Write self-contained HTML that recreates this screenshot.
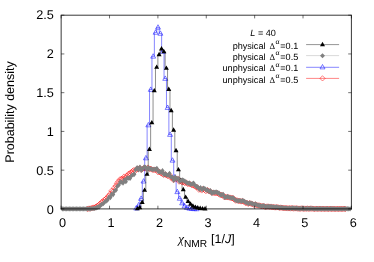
<!DOCTYPE html><html><head><meta charset="utf-8"><style>html,body{margin:0;padding:0;background:#fff}body{width:374px;height:262px;overflow:hidden;position:relative}</style></head><body><svg width="374" height="262" viewBox="0 0 374 262" style="position:absolute;left:0;top:0">
<path d="M86.78 208.79H88.19V208.62H89.59V208.50H91.00V208.21H92.41V207.63H93.83V207.62H95.23V206.78H96.65V205.82H98.06V205.18H99.47V203.72H100.88V202.25H102.28V201.52H103.69V199.83H105.10V198.93H106.52V197.51H107.92V195.82H109.34V194.11H110.75V190.94H112.16V191.51H113.56V187.94H114.97V185.96H116.38V183.30H117.79V181.63H119.20V179.51H120.62V179.04H122.03V178.76H123.44V176.67H124.84V177.83H126.25V175.81H127.66V174.04H129.07V173.48H130.48V172.37H131.89V171.16H133.31V170.15H134.71V170.84H136.12V168.81H137.53V168.91H138.94V168.06H140.35V169.71H141.76V168.93H143.17V168.24H144.58V168.41H146.00V168.86H147.40V167.65H148.81V168.75H150.22V168.85H151.63V169.70H153.04V169.83H154.45V169.87H155.86V169.66H157.27V172.12H158.69V171.80H160.09V172.92H161.50V173.71H162.91V174.74H164.32V174.43H165.73V175.32H167.14V176.03H168.56V174.86H169.96V177.44H171.38V177.78H172.78V180.01H174.19V178.71H175.60V178.88H177.01V178.67H178.42V181.54H179.83V180.88H181.25V182.16H182.65V182.16H184.06V182.96H185.47V182.60H186.88V183.78H188.29V183.87H189.70V184.30H191.12V185.06H192.52V185.12H193.94V186.24H195.34V186.80H196.75V187.35H198.16V189.61H199.57V188.92H200.98V190.34H202.39V188.84H203.81V189.81H205.21V190.97H206.62V190.03H208.03V191.20H209.44V191.43H210.85V192.56H212.26V192.88H213.68V192.74H215.08V193.19H216.50V192.91H217.90V193.77H219.31V194.70H220.72V195.13H222.13V195.22H223.54V197.15H224.95V197.08H226.37V197.18H227.77V197.35H229.19V197.59H230.59V198.14H232.00V197.87H233.41V199.22H234.82V200.54H236.23V200.40H237.64V200.85H239.06V200.94H240.46V201.40H241.88V201.17H243.28V201.73H244.69V202.85H246.10V202.85H247.51V203.77H248.92V203.08H250.33V203.60H251.75V204.21H253.15V204.77H254.56V204.45H255.97V205.15H257.38V205.43H258.79V205.53H260.20V206.03H261.62V206.30H263.02V206.06H264.43V206.92H265.84V206.64H267.25V206.52H268.66V206.71H270.07V206.69H271.48V207.27H272.89V206.93H274.30V207.41H275.71V207.37H277.12V207.25H278.53V207.71H279.94V207.58H281.35V207.76H282.76V208.11H284.17V208.04H285.58V208.19H287.00V208.34H288.40V208.18H289.81V208.44H291.22V208.08H292.63V208.52H294.04V208.38H295.45V208.36H296.87V208.52H298.27V208.66H299.68V208.62H301.09V208.46H302.50V208.73H303.91V208.61H305.32V208.71H306.73V208.51H308.14V208.79H309.55V208.56H310.96V208.58H312.38V208.74H313.78V208.84H315.19V208.72H316.60V208.78H318.01V208.72H319.42V208.74H320.83V208.77H322.24V208.81H323.65V208.82H325.06V208.81H326.47V208.82H327.88V208.86H329.29V208.79H330.70V208.83H332.11V208.85H333.52V208.89H334.93V208.85H336.34V208.90H337.75V208.84H339.16V208.89H340.57V208.86H341.98V208.84H343.39V208.82H344.80V208.86H346.21" stroke="#ff0000" stroke-width="0.5" fill="none" stroke-opacity="0.8"/>
<path d="M87.48 206.04 L90.23 208.79 L87.48 211.54 L84.73 208.79 ZM88.89 205.87 L91.64 208.62 L88.89 211.37 L86.14 208.62 ZM90.30 205.75 L93.05 208.50 L90.30 211.25 L87.55 208.50 ZM91.71 205.46 L94.46 208.21 L91.71 210.96 L88.96 208.21 ZM93.12 204.88 L95.87 207.63 L93.12 210.38 L90.37 207.63 ZM94.53 204.87 L97.28 207.62 L94.53 210.37 L91.78 207.62 ZM95.94 204.03 L98.69 206.78 L95.94 209.53 L93.19 206.78 ZM97.35 203.07 L100.10 205.82 L97.35 208.57 L94.60 205.82 ZM98.76 202.43 L101.51 205.18 L98.76 207.93 L96.01 205.18 ZM100.17 200.97 L102.92 203.72 L100.17 206.47 L97.42 203.72 ZM101.58 199.50 L104.33 202.25 L101.58 205.00 L98.83 202.25 ZM102.99 198.77 L105.74 201.52 L102.99 204.27 L100.24 201.52 ZM104.40 197.08 L107.15 199.83 L104.40 202.58 L101.65 199.83 ZM105.81 196.18 L108.56 198.93 L105.81 201.68 L103.06 198.93 ZM107.22 194.76 L109.97 197.51 L107.22 200.26 L104.47 197.51 ZM108.63 193.07 L111.38 195.82 L108.63 198.57 L105.88 195.82 ZM110.04 191.36 L112.79 194.11 L110.04 196.86 L107.29 194.11 ZM111.45 188.19 L114.20 190.94 L111.45 193.69 L108.70 190.94 ZM112.86 188.76 L115.61 191.51 L112.86 194.26 L110.11 191.51 ZM114.27 185.19 L117.02 187.94 L114.27 190.69 L111.52 187.94 ZM115.68 183.21 L118.43 185.96 L115.68 188.71 L112.93 185.96 ZM117.09 180.55 L119.84 183.30 L117.09 186.05 L114.34 183.30 ZM118.50 178.88 L121.25 181.63 L118.50 184.38 L115.75 181.63 ZM119.91 176.76 L122.66 179.51 L119.91 182.26 L117.16 179.51 ZM121.32 176.29 L124.07 179.04 L121.32 181.79 L118.57 179.04 ZM122.73 176.01 L125.48 178.76 L122.73 181.51 L119.98 178.76 ZM124.14 173.92 L126.89 176.67 L124.14 179.42 L121.39 176.67 ZM125.55 175.08 L128.30 177.83 L125.55 180.58 L122.80 177.83 ZM126.96 173.06 L129.71 175.81 L126.96 178.56 L124.21 175.81 ZM128.37 171.29 L131.12 174.04 L128.37 176.79 L125.62 174.04 ZM129.78 170.73 L132.53 173.48 L129.78 176.23 L127.03 173.48 ZM131.19 169.62 L133.94 172.37 L131.19 175.12 L128.44 172.37 ZM132.60 168.41 L135.35 171.16 L132.60 173.91 L129.85 171.16 ZM134.01 167.40 L136.76 170.15 L134.01 172.90 L131.26 170.15 ZM135.42 168.09 L138.17 170.84 L135.42 173.59 L132.67 170.84 ZM136.83 166.06 L139.58 168.81 L136.83 171.56 L134.08 168.81 ZM138.24 166.16 L140.99 168.91 L138.24 171.66 L135.49 168.91 ZM139.65 165.31 L142.40 168.06 L139.65 170.81 L136.90 168.06 ZM141.06 166.96 L143.81 169.71 L141.06 172.46 L138.31 169.71 ZM142.47 166.18 L145.22 168.93 L142.47 171.68 L139.72 168.93 ZM143.88 165.49 L146.63 168.24 L143.88 170.99 L141.13 168.24 ZM145.29 165.66 L148.04 168.41 L145.29 171.16 L142.54 168.41 ZM146.70 166.11 L149.45 168.86 L146.70 171.61 L143.95 168.86 ZM148.11 164.90 L150.86 167.65 L148.11 170.40 L145.36 167.65 ZM149.52 166.00 L152.27 168.75 L149.52 171.50 L146.77 168.75 ZM150.93 166.10 L153.68 168.85 L150.93 171.60 L148.18 168.85 ZM152.34 166.95 L155.09 169.70 L152.34 172.45 L149.59 169.70 ZM153.75 167.08 L156.50 169.83 L153.75 172.58 L151.00 169.83 ZM155.16 167.12 L157.91 169.87 L155.16 172.62 L152.41 169.87 ZM156.57 166.91 L159.32 169.66 L156.57 172.41 L153.82 169.66 ZM157.98 169.37 L160.73 172.12 L157.98 174.87 L155.23 172.12 ZM159.39 169.05 L162.14 171.80 L159.39 174.55 L156.64 171.80 ZM160.80 170.17 L163.55 172.92 L160.80 175.67 L158.05 172.92 ZM162.21 170.96 L164.96 173.71 L162.21 176.46 L159.46 173.71 ZM163.62 171.99 L166.37 174.74 L163.62 177.49 L160.87 174.74 ZM165.03 171.68 L167.78 174.43 L165.03 177.18 L162.28 174.43 ZM166.44 172.57 L169.19 175.32 L166.44 178.07 L163.69 175.32 ZM167.85 173.28 L170.60 176.03 L167.85 178.78 L165.10 176.03 ZM169.26 172.11 L172.01 174.86 L169.26 177.61 L166.51 174.86 ZM170.67 174.69 L173.42 177.44 L170.67 180.19 L167.92 177.44 ZM172.08 175.03 L174.83 177.78 L172.08 180.53 L169.33 177.78 ZM173.49 177.26 L176.24 180.01 L173.49 182.76 L170.74 180.01 ZM174.90 175.96 L177.65 178.71 L174.90 181.46 L172.15 178.71 ZM176.31 176.13 L179.06 178.88 L176.31 181.63 L173.56 178.88 ZM177.72 175.92 L180.47 178.67 L177.72 181.42 L174.97 178.67 ZM179.13 178.79 L181.88 181.54 L179.13 184.29 L176.38 181.54 ZM180.54 178.13 L183.29 180.88 L180.54 183.63 L177.79 180.88 ZM181.95 179.41 L184.70 182.16 L181.95 184.91 L179.20 182.16 ZM183.36 179.41 L186.11 182.16 L183.36 184.91 L180.61 182.16 ZM184.77 180.21 L187.52 182.96 L184.77 185.71 L182.02 182.96 ZM186.18 179.85 L188.93 182.60 L186.18 185.35 L183.43 182.60 ZM187.59 181.03 L190.34 183.78 L187.59 186.53 L184.84 183.78 ZM189.00 181.12 L191.75 183.87 L189.00 186.62 L186.25 183.87 ZM190.41 181.55 L193.16 184.30 L190.41 187.05 L187.66 184.30 ZM191.82 182.31 L194.57 185.06 L191.82 187.81 L189.07 185.06 ZM193.23 182.37 L195.98 185.12 L193.23 187.87 L190.48 185.12 ZM194.64 183.49 L197.39 186.24 L194.64 188.99 L191.89 186.24 ZM196.05 184.05 L198.80 186.80 L196.05 189.55 L193.30 186.80 ZM197.46 184.60 L200.21 187.35 L197.46 190.10 L194.71 187.35 ZM198.87 186.86 L201.62 189.61 L198.87 192.36 L196.12 189.61 ZM200.28 186.17 L203.03 188.92 L200.28 191.67 L197.53 188.92 ZM201.69 187.59 L204.44 190.34 L201.69 193.09 L198.94 190.34 ZM203.10 186.09 L205.85 188.84 L203.10 191.59 L200.35 188.84 ZM204.51 187.06 L207.26 189.81 L204.51 192.56 L201.76 189.81 ZM205.92 188.22 L208.67 190.97 L205.92 193.72 L203.17 190.97 ZM207.33 187.28 L210.08 190.03 L207.33 192.78 L204.58 190.03 ZM208.74 188.45 L211.49 191.20 L208.74 193.95 L205.99 191.20 ZM210.15 188.68 L212.90 191.43 L210.15 194.18 L207.40 191.43 ZM211.56 189.81 L214.31 192.56 L211.56 195.31 L208.81 192.56 ZM212.97 190.13 L215.72 192.88 L212.97 195.63 L210.22 192.88 ZM214.38 189.99 L217.13 192.74 L214.38 195.49 L211.63 192.74 ZM215.79 190.44 L218.54 193.19 L215.79 195.94 L213.04 193.19 ZM217.20 190.16 L219.95 192.91 L217.20 195.66 L214.45 192.91 ZM218.61 191.02 L221.36 193.77 L218.61 196.52 L215.86 193.77 ZM220.02 191.95 L222.77 194.70 L220.02 197.45 L217.27 194.70 ZM221.43 192.38 L224.18 195.13 L221.43 197.88 L218.68 195.13 ZM222.84 192.47 L225.59 195.22 L222.84 197.97 L220.09 195.22 ZM224.25 194.40 L227.00 197.15 L224.25 199.90 L221.50 197.15 ZM225.66 194.33 L228.41 197.08 L225.66 199.83 L222.91 197.08 ZM227.07 194.43 L229.82 197.18 L227.07 199.93 L224.32 197.18 ZM228.48 194.60 L231.23 197.35 L228.48 200.10 L225.73 197.35 ZM229.89 194.84 L232.64 197.59 L229.89 200.34 L227.14 197.59 ZM231.30 195.39 L234.05 198.14 L231.30 200.89 L228.55 198.14 ZM232.71 195.12 L235.46 197.87 L232.71 200.62 L229.96 197.87 ZM234.12 196.47 L236.87 199.22 L234.12 201.97 L231.37 199.22 ZM235.53 197.79 L238.28 200.54 L235.53 203.29 L232.78 200.54 ZM236.94 197.65 L239.69 200.40 L236.94 203.15 L234.19 200.40 ZM238.35 198.10 L241.10 200.85 L238.35 203.60 L235.60 200.85 ZM239.76 198.19 L242.51 200.94 L239.76 203.69 L237.01 200.94 ZM241.17 198.65 L243.92 201.40 L241.17 204.15 L238.42 201.40 ZM242.58 198.42 L245.33 201.17 L242.58 203.92 L239.83 201.17 ZM243.99 198.98 L246.74 201.73 L243.99 204.48 L241.24 201.73 ZM245.40 200.10 L248.15 202.85 L245.40 205.60 L242.65 202.85 ZM246.81 200.10 L249.56 202.85 L246.81 205.60 L244.06 202.85 ZM248.22 201.02 L250.97 203.77 L248.22 206.52 L245.47 203.77 ZM249.63 200.33 L252.38 203.08 L249.63 205.83 L246.88 203.08 ZM251.04 200.85 L253.79 203.60 L251.04 206.35 L248.29 203.60 ZM252.45 201.46 L255.20 204.21 L252.45 206.96 L249.70 204.21 ZM253.86 202.02 L256.61 204.77 L253.86 207.52 L251.11 204.77 ZM255.27 201.70 L258.02 204.45 L255.27 207.20 L252.52 204.45 ZM256.68 202.40 L259.43 205.15 L256.68 207.90 L253.93 205.15 ZM258.09 202.68 L260.84 205.43 L258.09 208.18 L255.34 205.43 ZM259.50 202.78 L262.25 205.53 L259.50 208.28 L256.75 205.53 ZM260.91 203.28 L263.66 206.03 L260.91 208.78 L258.16 206.03 ZM262.32 203.55 L265.07 206.30 L262.32 209.05 L259.57 206.30 ZM263.73 203.31 L266.48 206.06 L263.73 208.81 L260.98 206.06 ZM265.14 204.17 L267.89 206.92 L265.14 209.67 L262.39 206.92 ZM266.55 203.89 L269.30 206.64 L266.55 209.39 L263.80 206.64 ZM267.96 203.77 L270.71 206.52 L267.96 209.27 L265.21 206.52 ZM269.37 203.96 L272.12 206.71 L269.37 209.46 L266.62 206.71 ZM270.78 203.94 L273.53 206.69 L270.78 209.44 L268.03 206.69 ZM272.19 204.52 L274.94 207.27 L272.19 210.02 L269.44 207.27 ZM273.60 204.18 L276.35 206.93 L273.60 209.68 L270.85 206.93 ZM275.01 204.66 L277.76 207.41 L275.01 210.16 L272.26 207.41 ZM276.42 204.62 L279.17 207.37 L276.42 210.12 L273.67 207.37 ZM277.83 204.50 L280.58 207.25 L277.83 210.00 L275.08 207.25 ZM279.24 204.96 L281.99 207.71 L279.24 210.46 L276.49 207.71 ZM280.65 204.83 L283.40 207.58 L280.65 210.33 L277.90 207.58 ZM282.06 205.01 L284.81 207.76 L282.06 210.51 L279.31 207.76 ZM283.47 205.36 L286.22 208.11 L283.47 210.86 L280.72 208.11 ZM284.88 205.29 L287.63 208.04 L284.88 210.79 L282.13 208.04 ZM286.29 205.44 L289.04 208.19 L286.29 210.94 L283.54 208.19 ZM287.70 205.59 L290.45 208.34 L287.70 211.09 L284.95 208.34 ZM289.11 205.43 L291.86 208.18 L289.11 210.93 L286.36 208.18 ZM290.52 205.69 L293.27 208.44 L290.52 211.19 L287.77 208.44 ZM291.93 205.33 L294.68 208.08 L291.93 210.83 L289.18 208.08 ZM293.34 205.77 L296.09 208.52 L293.34 211.27 L290.59 208.52 ZM294.75 205.63 L297.50 208.38 L294.75 211.13 L292.00 208.38 ZM296.16 205.61 L298.91 208.36 L296.16 211.11 L293.41 208.36 ZM297.57 205.77 L300.32 208.52 L297.57 211.27 L294.82 208.52 ZM298.98 205.91 L301.73 208.66 L298.98 211.41 L296.23 208.66 ZM300.39 205.87 L303.14 208.62 L300.39 211.37 L297.64 208.62 ZM301.80 205.71 L304.55 208.46 L301.80 211.21 L299.05 208.46 ZM303.21 205.98 L305.96 208.73 L303.21 211.48 L300.46 208.73 ZM304.62 205.86 L307.37 208.61 L304.62 211.36 L301.87 208.61 ZM306.03 205.96 L308.78 208.71 L306.03 211.46 L303.28 208.71 ZM307.44 205.76 L310.19 208.51 L307.44 211.26 L304.69 208.51 ZM308.85 206.04 L311.60 208.79 L308.85 211.54 L306.10 208.79 ZM310.26 205.81 L313.01 208.56 L310.26 211.31 L307.51 208.56 ZM311.67 205.83 L314.42 208.58 L311.67 211.33 L308.92 208.58 ZM313.08 205.99 L315.83 208.74 L313.08 211.49 L310.33 208.74 ZM314.49 206.09 L317.24 208.84 L314.49 211.59 L311.74 208.84 ZM315.90 205.97 L318.65 208.72 L315.90 211.47 L313.15 208.72 ZM317.31 206.03 L320.06 208.78 L317.31 211.53 L314.56 208.78 ZM318.72 205.97 L321.47 208.72 L318.72 211.47 L315.97 208.72 ZM320.13 205.99 L322.88 208.74 L320.13 211.49 L317.38 208.74 ZM321.54 206.02 L324.29 208.77 L321.54 211.52 L318.79 208.77 ZM322.95 206.06 L325.70 208.81 L322.95 211.56 L320.20 208.81 ZM324.36 206.07 L327.11 208.82 L324.36 211.57 L321.61 208.82 ZM325.77 206.06 L328.52 208.81 L325.77 211.56 L323.02 208.81 ZM327.18 206.07 L329.93 208.82 L327.18 211.57 L324.43 208.82 ZM328.59 206.11 L331.34 208.86 L328.59 211.61 L325.84 208.86 ZM330.00 206.04 L332.75 208.79 L330.00 211.54 L327.25 208.79 ZM331.41 206.08 L334.16 208.83 L331.41 211.58 L328.66 208.83 ZM332.82 206.10 L335.57 208.85 L332.82 211.60 L330.07 208.85 ZM334.23 206.14 L336.98 208.89 L334.23 211.64 L331.48 208.89 ZM335.64 206.10 L338.39 208.85 L335.64 211.60 L332.89 208.85 ZM337.05 206.15 L339.80 208.90 L337.05 211.65 L334.30 208.90 ZM338.46 206.09 L341.21 208.84 L338.46 211.59 L335.71 208.84 ZM339.87 206.14 L342.62 208.89 L339.87 211.64 L337.12 208.89 ZM341.28 206.11 L344.03 208.86 L341.28 211.61 L338.53 208.86 ZM342.69 206.09 L345.44 208.84 L342.69 211.59 L339.94 208.84 ZM344.10 206.07 L346.85 208.82 L344.10 211.57 L341.35 208.82 ZM345.51 206.11 L348.26 208.86 L345.51 211.61 L342.76 208.86 Z" stroke="#ff0000" stroke-width="0.5" fill="none"/>
<path d="M135.04 208.20H137.46V205.00H139.87V198.50H142.29V181.20H144.71V158.00H147.12V125.00H149.54V89.50H151.96V56.30H154.37V32.40H156.79V27.30H159.21V33.40H161.63V51.50H164.04V78.50H166.46V107.60H168.88V134.50H171.29V160.30H173.71V177.00H176.13V191.80H178.54V198.40H180.96V203.00H183.38V206.00H185.79V207.60H188.21V208.30H190.63V208.60H193.04V208.80H195.46V208.90H197.88" stroke="#0000ff" stroke-width="0.6" fill="none" stroke-opacity="0.8"/>
<path d="M136.25 205.62 L133.75 210.03 L138.75 210.03 ZM138.67 202.42 L136.17 206.83 L141.17 206.83 ZM141.08 195.92 L138.58 200.33 L143.58 200.33 ZM143.50 178.62 L141.00 183.03 L146.00 183.03 ZM145.92 155.42 L143.42 159.83 L148.42 159.83 ZM148.33 122.42 L145.83 126.83 L150.83 126.83 ZM150.75 86.92 L148.25 91.33 L153.25 91.33 ZM153.17 53.72 L150.67 58.13 L155.67 58.13 ZM155.58 29.82 L153.08 34.23 L158.08 34.23 ZM158.00 24.72 L155.50 29.13 L160.50 29.13 ZM160.42 30.82 L157.92 35.23 L162.92 35.23 ZM162.83 48.92 L160.33 53.33 L165.33 53.33 ZM165.25 75.92 L162.75 80.33 L167.75 80.33 ZM167.67 105.02 L165.17 109.43 L170.17 109.43 ZM170.08 131.92 L167.58 136.33 L172.58 136.33 ZM172.50 157.72 L170.00 162.13 L175.00 162.13 ZM174.92 174.42 L172.42 178.83 L177.42 178.83 ZM177.33 189.22 L174.83 193.63 L179.83 193.63 ZM179.75 195.82 L177.25 200.23 L182.25 200.23 ZM182.17 200.42 L179.67 204.83 L184.67 204.83 ZM184.58 203.42 L182.08 207.83 L187.08 207.83 ZM187.00 205.02 L184.50 209.43 L189.50 209.43 ZM189.42 205.72 L186.92 210.13 L191.92 210.13 ZM191.83 206.02 L189.33 210.43 L194.33 210.43 ZM194.25 206.22 L191.75 210.63 L196.75 210.63 ZM196.67 206.32 L194.17 210.73 L199.17 210.73 Z" stroke="#0000ff" stroke-width="0.6" fill="none" stroke-opacity="0.85"/>
<path d="M136.14 208.50H138.56V207.30H140.97V202.20H143.39V190.00H145.81V174.00H148.22V149.20H150.64V122.50H153.06V90.50H155.47V67.00H157.89V54.40H160.31V48.60H162.73V51.50H165.14V68.00H167.56V89.10H169.98V110.30H172.39V129.80H174.81V150.40H177.23V169.50H179.64V180.00H182.06V189.40H184.48V197.00H186.89V201.20H189.31V203.90H191.73V205.80H194.14V207.00H196.56V207.70H198.98V208.20H201.39V208.50H203.81V208.70H206.23" stroke="#000" stroke-width="0.6" fill="none" stroke-opacity="0.75"/>
<path d="M137.35 205.92 L134.85 210.33 L139.85 210.33 ZM139.77 204.72 L137.27 209.13 L142.27 209.13 ZM142.18 199.62 L139.68 204.03 L144.68 204.03 ZM144.60 187.42 L142.10 191.83 L147.10 191.83 ZM147.02 171.42 L144.52 175.83 L149.52 175.83 ZM149.43 146.62 L146.93 151.03 L151.93 151.03 ZM151.85 119.92 L149.35 124.33 L154.35 124.33 ZM154.27 87.92 L151.77 92.33 L156.77 92.33 ZM156.68 64.42 L154.18 68.83 L159.18 68.83 ZM159.10 51.82 L156.60 56.23 L161.60 56.23 ZM161.52 46.02 L159.02 50.43 L164.02 50.43 ZM163.93 48.92 L161.43 53.33 L166.43 53.33 ZM166.35 65.42 L163.85 69.83 L168.85 69.83 ZM168.77 86.52 L166.27 90.93 L171.27 90.93 ZM171.18 107.72 L168.68 112.13 L173.68 112.13 ZM173.60 127.22 L171.10 131.63 L176.10 131.63 ZM176.02 147.82 L173.52 152.23 L178.52 152.23 ZM178.43 166.92 L175.93 171.33 L180.93 171.33 ZM180.85 177.42 L178.35 181.83 L183.35 181.83 ZM183.27 186.82 L180.77 191.23 L185.77 191.23 ZM185.68 194.42 L183.18 198.83 L188.18 198.83 ZM188.10 198.62 L185.60 203.03 L190.60 203.03 ZM190.52 201.32 L188.02 205.73 L193.02 205.73 ZM192.93 203.22 L190.43 207.63 L195.43 207.63 ZM195.35 204.42 L192.85 208.83 L197.85 208.83 ZM197.77 205.12 L195.27 209.53 L200.27 209.53 ZM200.18 205.62 L197.68 210.03 L202.68 210.03 ZM202.60 205.92 L200.10 210.33 L205.10 210.33 ZM205.02 206.12 L202.52 210.53 L207.52 210.53 Z" fill="#000" stroke="none"/>
<path d="M61.70 208.90H63.10V208.90H64.52V208.90H65.92V208.90H67.33V208.90H68.75V208.90H70.16V208.90H71.56V208.90H72.97V208.90H74.38V208.90H75.80V208.90H77.20V208.90H78.61V208.90H80.02V208.90H81.44V208.90H82.84V208.90H84.25V208.90H85.66V208.85H87.08V208.84H88.48V208.80H89.89V208.78H91.30V208.64H92.72V208.42H94.12V208.41H95.53V207.80H96.94V207.27H98.36V206.93H99.77V205.50H101.17V204.36H102.58V203.58H103.99V201.95H105.41V201.06H106.81V199.96H108.22V197.30H109.63V197.54H111.05V194.12H112.45V194.43H113.86V190.90H115.27V190.08H116.68V186.37H118.09V185.11H119.50V182.15H120.91V182.15H122.33V183.10H123.73V179.85H125.14V181.65H126.55V178.06H127.96V178.14H129.38V178.35H130.78V175.60H132.19V174.92H133.61V174.23H135.01V169.57H136.43V167.65H137.83V169.73H139.25V167.10H140.65V170.21H142.06V168.81H143.47V167.07H144.88V167.34H146.30V169.71H147.70V167.71H149.12V168.69H150.52V169.01H151.94V169.62H153.34V169.20H154.75V169.40H156.16V168.46H157.57V171.49H158.99V171.45H160.39V172.42H161.81V170.78H163.21V174.53H164.62V173.60H166.03V175.10H167.44V174.99H168.86V173.40H170.26V176.95H171.68V177.18H173.08V180.19H174.50V177.11H175.90V178.71H177.31V178.40H178.72V181.37H180.13V180.65H181.55V179.89H182.95V180.47H184.37V181.41H185.77V182.44H187.19V183.30H188.59V183.04H190.00V184.38H191.42V183.97H192.82V183.12H194.24V185.24H195.64V186.46H197.06V186.96H198.46V188.93H199.88V187.79H201.28V189.64H202.69V188.32H204.11V188.59H205.51V190.14H206.93V189.99H208.33V191.64H209.75V190.68H211.15V193.24H212.56V192.31H213.98V192.38H215.38V192.04H216.80V192.72H218.20V192.94H219.62V194.84H221.02V194.71H222.44V194.35H223.84V197.20H225.25V197.37H226.67V196.51H228.07V197.19H229.49V197.60H230.89V198.09H232.31V197.63H233.71V199.25H235.12V200.30H236.53V200.73H237.94V200.74H239.36V200.61H240.76V201.22H242.18V200.48H243.58V201.50H245.00V202.24H246.40V202.81H247.81V203.67H249.22V202.84H250.63V203.52H252.05V203.73H253.45V204.66H254.87V203.98H256.27V204.92H257.68V205.40H259.09V205.53H260.50V206.17H261.91V205.87H263.32V205.72H264.74V206.85H266.14V206.40H267.55V206.45H268.96V206.60H270.38V206.55H271.78V206.89H273.19V206.91H274.61V207.30H276.01V206.93H277.42V207.37H278.83V207.77H280.25V207.34H281.65V207.71H283.06V208.09H284.48V208.00H285.88V208.15H287.29V208.34H288.70V208.11H290.12V208.40H291.52V207.98H292.93V208.30H294.34V208.35H295.75V208.28H297.16V208.53H298.57V208.76H299.99V208.56H301.39V208.48H302.80V208.75H304.21V208.61H305.62V208.68H307.03V208.47H308.44V208.77H309.86V208.54H311.26V208.55H312.67V208.77H314.08V208.88H315.50V208.73H316.90V208.79H318.31V208.72H319.72V208.72H321.13V208.80H322.54V208.79H323.95V208.84H325.36V208.82H326.77V208.82H328.18V208.83H329.59V208.81H331.00V208.81H332.41V208.82H333.82V208.90H335.23V208.88H336.64V208.89H338.05V208.89H339.46V208.87H340.88V208.88H342.28V208.84H343.69V208.81H345.10V208.87H346.51V208.82H347.92V208.84H349.33V208.88H350.75" stroke="#808080" stroke-width="0.6" fill="none"/>
<path d="M62.40 206.20 L64.50 208.90 L62.40 211.60 L60.30 208.90 ZM63.81 206.20 L65.91 208.90 L63.81 211.60 L61.71 208.90 ZM65.22 206.20 L67.32 208.90 L65.22 211.60 L63.12 208.90 ZM66.63 206.20 L68.73 208.90 L66.63 211.60 L64.53 208.90 ZM68.04 206.20 L70.14 208.90 L68.04 211.60 L65.94 208.90 ZM69.45 206.20 L71.55 208.90 L69.45 211.60 L67.35 208.90 ZM70.86 206.20 L72.96 208.90 L70.86 211.60 L68.76 208.90 ZM72.27 206.20 L74.37 208.90 L72.27 211.60 L70.17 208.90 ZM73.68 206.20 L75.78 208.90 L73.68 211.60 L71.58 208.90 ZM75.09 206.20 L77.19 208.90 L75.09 211.60 L72.99 208.90 ZM76.50 206.20 L78.60 208.90 L76.50 211.60 L74.40 208.90 ZM77.91 206.20 L80.01 208.90 L77.91 211.60 L75.81 208.90 ZM79.32 206.20 L81.42 208.90 L79.32 211.60 L77.22 208.90 ZM80.73 206.20 L82.83 208.90 L80.73 211.60 L78.63 208.90 ZM82.14 206.20 L84.24 208.90 L82.14 211.60 L80.04 208.90 ZM83.55 206.20 L85.65 208.90 L83.55 211.60 L81.45 208.90 ZM84.96 206.20 L87.06 208.90 L84.96 211.60 L82.86 208.90 ZM86.37 206.15 L88.47 208.85 L86.37 211.55 L84.27 208.85 ZM87.78 206.14 L89.88 208.84 L87.78 211.54 L85.68 208.84 ZM89.19 206.10 L91.29 208.80 L89.19 211.50 L87.09 208.80 ZM90.60 206.08 L92.70 208.78 L90.60 211.48 L88.50 208.78 ZM92.01 205.94 L94.11 208.64 L92.01 211.34 L89.91 208.64 ZM93.42 205.72 L95.52 208.42 L93.42 211.12 L91.32 208.42 ZM94.83 205.71 L96.93 208.41 L94.83 211.11 L92.73 208.41 ZM96.24 205.10 L98.34 207.80 L96.24 210.50 L94.14 207.80 ZM97.65 204.57 L99.75 207.27 L97.65 209.97 L95.55 207.27 ZM99.06 204.23 L101.16 206.93 L99.06 209.63 L96.96 206.93 ZM100.47 202.80 L102.57 205.50 L100.47 208.20 L98.37 205.50 ZM101.88 201.66 L103.98 204.36 L101.88 207.06 L99.78 204.36 ZM103.29 200.88 L105.39 203.58 L103.29 206.28 L101.19 203.58 ZM104.70 199.25 L106.80 201.95 L104.70 204.65 L102.60 201.95 ZM106.11 198.36 L108.21 201.06 L106.11 203.76 L104.01 201.06 ZM107.52 197.26 L109.62 199.96 L107.52 202.66 L105.42 199.96 ZM108.93 194.60 L111.03 197.30 L108.93 200.00 L106.83 197.30 ZM110.34 194.84 L112.44 197.54 L110.34 200.24 L108.24 197.54 ZM111.75 191.42 L113.85 194.12 L111.75 196.82 L109.65 194.12 ZM113.16 191.73 L115.26 194.43 L113.16 197.13 L111.06 194.43 ZM114.57 188.20 L116.67 190.90 L114.57 193.60 L112.47 190.90 ZM115.98 187.38 L118.08 190.08 L115.98 192.78 L113.88 190.08 ZM117.39 183.67 L119.49 186.37 L117.39 189.07 L115.29 186.37 ZM118.80 182.41 L120.90 185.11 L118.80 187.81 L116.70 185.11 ZM120.21 179.45 L122.31 182.15 L120.21 184.85 L118.11 182.15 ZM121.62 179.45 L123.72 182.15 L121.62 184.85 L119.52 182.15 ZM123.03 180.40 L125.13 183.10 L123.03 185.80 L120.93 183.10 ZM124.44 177.15 L126.54 179.85 L124.44 182.55 L122.34 179.85 ZM125.85 178.95 L127.95 181.65 L125.85 184.35 L123.75 181.65 ZM127.26 175.36 L129.36 178.06 L127.26 180.76 L125.16 178.06 ZM128.67 175.44 L130.77 178.14 L128.67 180.84 L126.57 178.14 ZM130.08 175.65 L132.18 178.35 L130.08 181.05 L127.98 178.35 ZM131.49 172.90 L133.59 175.60 L131.49 178.30 L129.39 175.60 ZM132.90 172.22 L135.00 174.92 L132.90 177.62 L130.80 174.92 ZM134.31 171.53 L136.41 174.23 L134.31 176.93 L132.21 174.23 ZM135.72 166.87 L137.82 169.57 L135.72 172.27 L133.62 169.57 ZM137.13 164.95 L139.23 167.65 L137.13 170.35 L135.03 167.65 ZM138.54 167.03 L140.64 169.73 L138.54 172.43 L136.44 169.73 ZM139.95 164.40 L142.05 167.10 L139.95 169.80 L137.85 167.10 ZM141.36 167.51 L143.46 170.21 L141.36 172.91 L139.26 170.21 ZM142.77 166.11 L144.87 168.81 L142.77 171.51 L140.67 168.81 ZM144.18 164.37 L146.28 167.07 L144.18 169.77 L142.08 167.07 ZM145.59 164.64 L147.69 167.34 L145.59 170.04 L143.49 167.34 ZM147.00 167.01 L149.10 169.71 L147.00 172.41 L144.90 169.71 ZM148.41 165.01 L150.51 167.71 L148.41 170.41 L146.31 167.71 ZM149.82 165.99 L151.92 168.69 L149.82 171.39 L147.72 168.69 ZM151.23 166.31 L153.33 169.01 L151.23 171.71 L149.13 169.01 ZM152.64 166.92 L154.74 169.62 L152.64 172.32 L150.54 169.62 ZM154.05 166.50 L156.15 169.20 L154.05 171.90 L151.95 169.20 ZM155.46 166.70 L157.56 169.40 L155.46 172.10 L153.36 169.40 ZM156.87 165.76 L158.97 168.46 L156.87 171.16 L154.77 168.46 ZM158.28 168.79 L160.38 171.49 L158.28 174.19 L156.18 171.49 ZM159.69 168.75 L161.79 171.45 L159.69 174.15 L157.59 171.45 ZM161.10 169.72 L163.20 172.42 L161.10 175.12 L159.00 172.42 ZM162.51 168.08 L164.61 170.78 L162.51 173.48 L160.41 170.78 ZM163.92 171.83 L166.02 174.53 L163.92 177.23 L161.82 174.53 ZM165.33 170.90 L167.43 173.60 L165.33 176.30 L163.23 173.60 ZM166.74 172.40 L168.84 175.10 L166.74 177.80 L164.64 175.10 ZM168.15 172.29 L170.25 174.99 L168.15 177.69 L166.05 174.99 ZM169.56 170.70 L171.66 173.40 L169.56 176.10 L167.46 173.40 ZM170.97 174.25 L173.07 176.95 L170.97 179.65 L168.87 176.95 ZM172.38 174.48 L174.48 177.18 L172.38 179.88 L170.28 177.18 ZM173.79 177.49 L175.89 180.19 L173.79 182.89 L171.69 180.19 ZM175.20 174.41 L177.30 177.11 L175.20 179.81 L173.10 177.11 ZM176.61 176.01 L178.71 178.71 L176.61 181.41 L174.51 178.71 ZM178.02 175.70 L180.12 178.40 L178.02 181.10 L175.92 178.40 ZM179.43 178.67 L181.53 181.37 L179.43 184.07 L177.33 181.37 ZM180.84 177.95 L182.94 180.65 L180.84 183.35 L178.74 180.65 ZM182.25 177.19 L184.35 179.89 L182.25 182.59 L180.15 179.89 ZM183.66 177.77 L185.76 180.47 L183.66 183.17 L181.56 180.47 ZM185.07 178.71 L187.17 181.41 L185.07 184.11 L182.97 181.41 ZM186.48 179.74 L188.58 182.44 L186.48 185.14 L184.38 182.44 ZM187.89 180.60 L189.99 183.30 L187.89 186.00 L185.79 183.30 ZM189.30 180.34 L191.40 183.04 L189.30 185.74 L187.20 183.04 ZM190.71 181.68 L192.81 184.38 L190.71 187.08 L188.61 184.38 ZM192.12 181.27 L194.22 183.97 L192.12 186.67 L190.02 183.97 ZM193.53 180.42 L195.63 183.12 L193.53 185.82 L191.43 183.12 ZM194.94 182.54 L197.04 185.24 L194.94 187.94 L192.84 185.24 ZM196.35 183.76 L198.45 186.46 L196.35 189.16 L194.25 186.46 ZM197.76 184.26 L199.86 186.96 L197.76 189.66 L195.66 186.96 ZM199.17 186.23 L201.27 188.93 L199.17 191.63 L197.07 188.93 ZM200.58 185.09 L202.68 187.79 L200.58 190.49 L198.48 187.79 ZM201.99 186.94 L204.09 189.64 L201.99 192.34 L199.89 189.64 ZM203.40 185.62 L205.50 188.32 L203.40 191.02 L201.30 188.32 ZM204.81 185.89 L206.91 188.59 L204.81 191.29 L202.71 188.59 ZM206.22 187.44 L208.32 190.14 L206.22 192.84 L204.12 190.14 ZM207.63 187.29 L209.73 189.99 L207.63 192.69 L205.53 189.99 ZM209.04 188.94 L211.14 191.64 L209.04 194.34 L206.94 191.64 ZM210.45 187.98 L212.55 190.68 L210.45 193.38 L208.35 190.68 ZM211.86 190.54 L213.96 193.24 L211.86 195.94 L209.76 193.24 ZM213.27 189.61 L215.37 192.31 L213.27 195.01 L211.17 192.31 ZM214.68 189.68 L216.78 192.38 L214.68 195.08 L212.58 192.38 ZM216.09 189.34 L218.19 192.04 L216.09 194.74 L213.99 192.04 ZM217.50 190.02 L219.60 192.72 L217.50 195.42 L215.40 192.72 ZM218.91 190.24 L221.01 192.94 L218.91 195.64 L216.81 192.94 ZM220.32 192.14 L222.42 194.84 L220.32 197.54 L218.22 194.84 ZM221.73 192.01 L223.83 194.71 L221.73 197.41 L219.63 194.71 ZM223.14 191.65 L225.24 194.35 L223.14 197.05 L221.04 194.35 ZM224.55 194.50 L226.65 197.20 L224.55 199.90 L222.45 197.20 ZM225.96 194.67 L228.06 197.37 L225.96 200.07 L223.86 197.37 ZM227.37 193.81 L229.47 196.51 L227.37 199.21 L225.27 196.51 ZM228.78 194.49 L230.88 197.19 L228.78 199.89 L226.68 197.19 ZM230.19 194.90 L232.29 197.60 L230.19 200.30 L228.09 197.60 ZM231.60 195.39 L233.70 198.09 L231.60 200.79 L229.50 198.09 ZM233.01 194.93 L235.11 197.63 L233.01 200.33 L230.91 197.63 ZM234.42 196.55 L236.52 199.25 L234.42 201.95 L232.32 199.25 ZM235.83 197.60 L237.93 200.30 L235.83 203.00 L233.73 200.30 ZM237.24 198.03 L239.34 200.73 L237.24 203.43 L235.14 200.73 ZM238.65 198.04 L240.75 200.74 L238.65 203.44 L236.55 200.74 ZM240.06 197.91 L242.16 200.61 L240.06 203.31 L237.96 200.61 ZM241.47 198.52 L243.57 201.22 L241.47 203.92 L239.37 201.22 ZM242.88 197.78 L244.98 200.48 L242.88 203.18 L240.78 200.48 ZM244.29 198.80 L246.39 201.50 L244.29 204.20 L242.19 201.50 ZM245.70 199.54 L247.80 202.24 L245.70 204.94 L243.60 202.24 ZM247.11 200.11 L249.21 202.81 L247.11 205.51 L245.01 202.81 ZM248.52 200.97 L250.62 203.67 L248.52 206.37 L246.42 203.67 ZM249.93 200.14 L252.03 202.84 L249.93 205.54 L247.83 202.84 ZM251.34 200.82 L253.44 203.52 L251.34 206.22 L249.24 203.52 ZM252.75 201.03 L254.85 203.73 L252.75 206.43 L250.65 203.73 ZM254.16 201.96 L256.26 204.66 L254.16 207.36 L252.06 204.66 ZM255.57 201.28 L257.67 203.98 L255.57 206.68 L253.47 203.98 ZM256.98 202.22 L259.08 204.92 L256.98 207.62 L254.88 204.92 ZM258.39 202.70 L260.49 205.40 L258.39 208.10 L256.29 205.40 ZM259.80 202.83 L261.90 205.53 L259.80 208.23 L257.70 205.53 ZM261.21 203.47 L263.31 206.17 L261.21 208.87 L259.11 206.17 ZM262.62 203.17 L264.72 205.87 L262.62 208.57 L260.52 205.87 ZM264.03 203.02 L266.13 205.72 L264.03 208.42 L261.93 205.72 ZM265.44 204.15 L267.54 206.85 L265.44 209.55 L263.34 206.85 ZM266.85 203.70 L268.95 206.40 L266.85 209.10 L264.75 206.40 ZM268.26 203.75 L270.36 206.45 L268.26 209.15 L266.16 206.45 ZM269.67 203.90 L271.77 206.60 L269.67 209.30 L267.57 206.60 ZM271.08 203.85 L273.18 206.55 L271.08 209.25 L268.98 206.55 ZM272.49 204.19 L274.59 206.89 L272.49 209.59 L270.39 206.89 ZM273.90 204.21 L276.00 206.91 L273.90 209.61 L271.80 206.91 ZM275.31 204.60 L277.41 207.30 L275.31 210.00 L273.21 207.30 ZM276.72 204.23 L278.82 206.93 L276.72 209.63 L274.62 206.93 ZM278.13 204.67 L280.23 207.37 L278.13 210.07 L276.03 207.37 ZM279.54 205.07 L281.64 207.77 L279.54 210.47 L277.44 207.77 ZM280.95 204.64 L283.05 207.34 L280.95 210.04 L278.85 207.34 ZM282.36 205.01 L284.46 207.71 L282.36 210.41 L280.26 207.71 ZM283.77 205.39 L285.87 208.09 L283.77 210.79 L281.67 208.09 ZM285.18 205.30 L287.28 208.00 L285.18 210.70 L283.08 208.00 ZM286.59 205.45 L288.69 208.15 L286.59 210.85 L284.49 208.15 ZM288.00 205.64 L290.10 208.34 L288.00 211.04 L285.90 208.34 ZM289.41 205.41 L291.51 208.11 L289.41 210.81 L287.31 208.11 ZM290.82 205.70 L292.92 208.40 L290.82 211.10 L288.72 208.40 ZM292.23 205.28 L294.33 207.98 L292.23 210.68 L290.13 207.98 ZM293.64 205.60 L295.74 208.30 L293.64 211.00 L291.54 208.30 ZM295.05 205.65 L297.15 208.35 L295.05 211.05 L292.95 208.35 ZM296.46 205.58 L298.56 208.28 L296.46 210.98 L294.36 208.28 ZM297.87 205.83 L299.97 208.53 L297.87 211.23 L295.77 208.53 ZM299.28 206.06 L301.38 208.76 L299.28 211.46 L297.18 208.76 ZM300.69 205.86 L302.79 208.56 L300.69 211.26 L298.59 208.56 ZM302.10 205.78 L304.20 208.48 L302.10 211.18 L300.00 208.48 ZM303.51 206.05 L305.61 208.75 L303.51 211.45 L301.41 208.75 ZM304.92 205.91 L307.02 208.61 L304.92 211.31 L302.82 208.61 ZM306.33 205.98 L308.43 208.68 L306.33 211.38 L304.23 208.68 ZM307.74 205.77 L309.84 208.47 L307.74 211.17 L305.64 208.47 ZM309.15 206.07 L311.25 208.77 L309.15 211.47 L307.05 208.77 ZM310.56 205.84 L312.66 208.54 L310.56 211.24 L308.46 208.54 ZM311.97 205.85 L314.07 208.55 L311.97 211.25 L309.87 208.55 ZM313.38 206.07 L315.48 208.77 L313.38 211.47 L311.28 208.77 ZM314.79 206.18 L316.89 208.88 L314.79 211.58 L312.69 208.88 ZM316.20 206.03 L318.30 208.73 L316.20 211.43 L314.10 208.73 ZM317.61 206.09 L319.71 208.79 L317.61 211.49 L315.51 208.79 ZM319.02 206.02 L321.12 208.72 L319.02 211.42 L316.92 208.72 ZM320.43 206.02 L322.53 208.72 L320.43 211.42 L318.33 208.72 ZM321.84 206.10 L323.94 208.80 L321.84 211.50 L319.74 208.80 ZM323.25 206.09 L325.35 208.79 L323.25 211.49 L321.15 208.79 ZM324.66 206.14 L326.76 208.84 L324.66 211.54 L322.56 208.84 ZM326.07 206.12 L328.17 208.82 L326.07 211.52 L323.97 208.82 ZM327.48 206.12 L329.58 208.82 L327.48 211.52 L325.38 208.82 ZM328.89 206.13 L330.99 208.83 L328.89 211.53 L326.79 208.83 ZM330.30 206.11 L332.40 208.81 L330.30 211.51 L328.20 208.81 ZM331.71 206.11 L333.81 208.81 L331.71 211.51 L329.61 208.81 ZM333.12 206.12 L335.22 208.82 L333.12 211.52 L331.02 208.82 ZM334.53 206.20 L336.63 208.90 L334.53 211.60 L332.43 208.90 ZM335.94 206.18 L338.04 208.88 L335.94 211.58 L333.84 208.88 ZM337.35 206.19 L339.45 208.89 L337.35 211.59 L335.25 208.89 ZM338.76 206.19 L340.86 208.89 L338.76 211.59 L336.66 208.89 ZM340.17 206.17 L342.27 208.87 L340.17 211.57 L338.07 208.87 ZM341.58 206.18 L343.68 208.88 L341.58 211.58 L339.48 208.88 ZM342.99 206.14 L345.09 208.84 L342.99 211.54 L340.89 208.84 ZM344.40 206.11 L346.50 208.81 L344.40 211.51 L342.30 208.81 ZM345.81 206.17 L347.91 208.87 L345.81 211.57 L343.71 208.87 ZM347.22 206.12 L349.32 208.82 L347.22 211.52 L345.12 208.82 ZM348.63 206.14 L350.73 208.84 L348.63 211.54 L346.53 208.84 ZM350.04 206.18 L352.14 208.88 L350.04 211.58 L347.94 208.88 Z" fill="#808080" stroke="none"/>
<rect x="61.15" y="15.20" width="290.25" height="193.70" fill="none" stroke="#000" stroke-width="1" stroke-opacity="0.78"/>
<path d="M61.15 208.90v-3.2M61.15 15.20v3.2M109.53 208.90v-3.2M109.53 15.20v3.2M157.90 208.90v-3.2M157.90 15.20v3.2M206.28 208.90v-3.2M206.28 15.20v3.2M254.65 208.90v-3.2M254.65 15.20v3.2M303.02 208.90v-3.2M303.02 15.20v3.2M351.40 208.90v-3.2M351.40 15.20v3.2M61.15 208.90h3.2M351.40 208.90h-3.2M61.15 170.16h3.2M351.40 170.16h-3.2M61.15 131.42h3.2M351.40 131.42h-3.2M61.15 92.68h3.2M351.40 92.68h-3.2M61.15 53.94h3.2M351.40 53.94h-3.2M61.15 15.20h3.2M351.40 15.20h-3.2" stroke="#000" stroke-width="0.8" stroke-opacity="0.7" fill="none"/>
<path d="M306.1 44.6H339.1" stroke="#000" stroke-width="0.6" stroke-opacity="0.7"/>
<path d="M322.50 41.72 L320.00 46.13 L325.00 46.13 Z" fill="#000"/>
<path d="M306.1 55.6H339.1" stroke="#808080" stroke-width="0.6" stroke-opacity="0.5"/>
<path d="M322.50 53.15 L325.00 55.65 L322.50 58.15 L320.00 55.65 Z" fill="#808080"/>
<path d="M306.1 67.3H339.1" stroke="#0000ff" stroke-width="0.6" stroke-opacity="0.8"/>
<path d="M322.50 64.47 L320.00 68.88 L325.00 68.88 Z" fill="none" stroke="#0000ff" stroke-width="0.6" stroke-opacity="0.85"/>
<path d="M306.1 78.4H339.1" stroke="#ff0000" stroke-width="0.6" stroke-opacity="0.8"/>
<path d="M322.50 75.80 L325.10 78.40 L322.50 81.00 L319.90 78.40 Z" fill="none" stroke="#ff0000" stroke-width="0.6" stroke-opacity="0.85"/>
<g style="filter:grayscale(1) blur(0.3px);text-rendering:geometricPrecision" fill="#000">
<text x="53.8" y="214.10" font-family="Liberation Sans, sans-serif" font-size="12.7" text-anchor="end">0</text>
<text x="53.8" y="175.10" font-family="Liberation Sans, sans-serif" font-size="12.7" text-anchor="end">0.5</text>
<text x="53.8" y="136.10" font-family="Liberation Sans, sans-serif" font-size="12.7" text-anchor="end">1</text>
<text x="53.8" y="97.10" font-family="Liberation Sans, sans-serif" font-size="12.7" text-anchor="end">1.5</text>
<text x="53.8" y="58.10" font-family="Liberation Sans, sans-serif" font-size="12.7" text-anchor="end">2</text>
<text x="53.8" y="19.10" font-family="Liberation Sans, sans-serif" font-size="12.7" text-anchor="end">2.5</text>
<text x="62.60" y="226.8" font-family="Liberation Sans, sans-serif" font-size="12.7" text-anchor="middle">0</text>
<text x="111.06" y="226.8" font-family="Liberation Sans, sans-serif" font-size="12.7" text-anchor="middle">1</text>
<text x="159.52" y="226.8" font-family="Liberation Sans, sans-serif" font-size="12.7" text-anchor="middle">2</text>
<text x="207.98" y="226.8" font-family="Liberation Sans, sans-serif" font-size="12.7" text-anchor="middle">3</text>
<text x="256.44" y="226.8" font-family="Liberation Sans, sans-serif" font-size="12.7" text-anchor="middle">4</text>
<text x="304.90" y="226.8" font-family="Liberation Sans, sans-serif" font-size="12.7" text-anchor="middle">5</text>
<text x="353.36" y="226.8" font-family="Liberation Sans, sans-serif" font-size="12.7" text-anchor="middle">6</text>
<text transform="translate(14.0,162.7) rotate(-90)" font-family="Liberation Sans, sans-serif" font-size="12.5" id="ylab">Probability density</text>
<text x="178.2" y="243" font-family="Liberation Serif, serif" font-size="13" font-style="italic">χ</text>
<text x="183.9" y="247.1" font-family="Liberation Sans, sans-serif" font-size="10.2">NMR</text>
<text x="211.0" y="243" font-family="Liberation Sans, sans-serif" font-size="12.5">[1/<tspan font-style="italic">J</tspan>]</text>
<text x="250.3" y="35.8" font-family="Liberation Sans, sans-serif" font-size="9.1" id="ltitle"><tspan font-style="italic">L</tspan> = 40</text>
<text x="265.5" y="48.80" font-family="Liberation Sans, sans-serif" font-size="9.1" text-anchor="end">physical</text>
<text x="269.6" y="48.80" font-family="Liberation Serif, serif" font-size="8.7">Δ</text>
<text x="275.5" y="44.10" font-family="Liberation Serif, serif" font-size="7.6">α</text>
<text x="280.3" y="48.80" font-family="Liberation Sans, sans-serif" font-size="9.1">=0.1</text>
<text x="265.5" y="60.00" font-family="Liberation Sans, sans-serif" font-size="9.1" text-anchor="end">physical</text>
<text x="269.6" y="60.00" font-family="Liberation Serif, serif" font-size="8.7">Δ</text>
<text x="275.5" y="55.30" font-family="Liberation Serif, serif" font-size="7.6">α</text>
<text x="280.3" y="60.00" font-family="Liberation Sans, sans-serif" font-size="9.1">=0.5</text>
<text x="265.5" y="71.20" font-family="Liberation Sans, sans-serif" font-size="9.1" text-anchor="end">unphysical</text>
<text x="269.6" y="71.20" font-family="Liberation Serif, serif" font-size="8.7">Δ</text>
<text x="275.5" y="66.50" font-family="Liberation Serif, serif" font-size="7.6">α</text>
<text x="280.3" y="71.20" font-family="Liberation Sans, sans-serif" font-size="9.1">=0.1</text>
<text x="265.5" y="82.60" font-family="Liberation Sans, sans-serif" font-size="9.1" text-anchor="end">unphysical</text>
<text x="269.6" y="82.60" font-family="Liberation Serif, serif" font-size="8.7">Δ</text>
<text x="275.5" y="77.90" font-family="Liberation Serif, serif" font-size="7.6">α</text>
<text x="280.3" y="82.60" font-family="Liberation Sans, sans-serif" font-size="9.1">=0.5</text>
</g>
</svg></body></html>
